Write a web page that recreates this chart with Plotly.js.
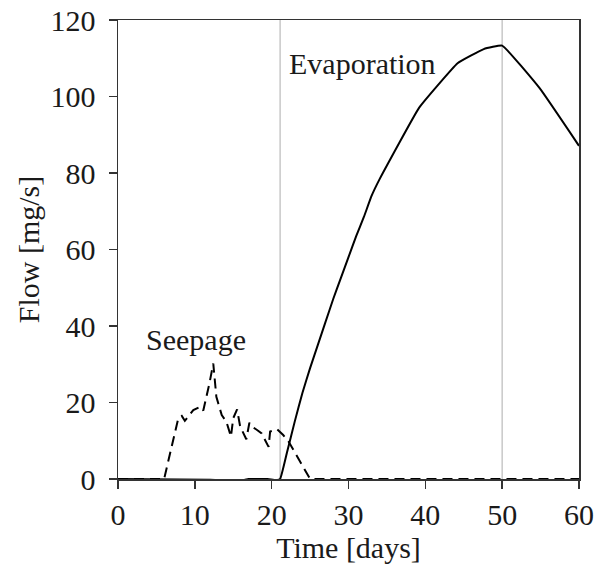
<!DOCTYPE html>
<html>
<head>
<meta charset="utf-8">
<script src="https://cdn.plot.ly/plotly-3.0.1.min.js"></script>
<style>
  html, body { margin: 0; padding: 0; background: #fff; }
  #chart { width: 597px; height: 568px; }
</style>
</head>
<body>
<div id="chart"></div>
<script>
// Seepage flow [mg/s] over time [days]
const seepageDays = [0, 6.0, 7.85, 8.3, 8.7, 9.8, 10.7, 11.1, 11.9, 12.4, 12.8, 13.5, 14.1, 14.7, 15.0, 15.5, 15.9, 16.7, 17.1, 17.6, 18.1, 18.7, 19.6, 19.8, 20.7, 21.5, 22.2, 25.0, 60];
const seepageFlow = [0, 0, 15.9, 16.5, 15.2, 18.0, 18.9, 17.9, 25.0, 30.2, 21.5, 16.7, 15.0, 11.1, 15.9, 18.2, 13.7, 10.4, 14.7, 13.5, 12.8, 11.9, 8.4, 12.4, 13.0, 11.5, 9.8, 0, 0];

// Evaporation flow [mg/s] over time [days]
const evapDays = [0, 12, 16, 17, 19.5, 20.5, 21.1, 22, 23, 24, 25, 26, 27, 28, 29, 30, 31, 32, 33, 34.1, 39.2, 44.2, 47.6, 50, 54.9, 60];
const evapFlow = [0, -0.2, -0.4, 0, 0, -0.3, 0, 7, 15, 22.5, 29, 35, 41, 47, 52.5, 58, 63.5, 68.5, 74, 78.6, 97.1, 108.7, 112.4, 113.3, 102.1, 87.1];

// Reference days marked with vertical lines
const markerDays = [21.1, 50];

// Axis ticks
const xTicks = [0, 10, 20, 30, 40, 50, 60];
const yTicks = [0, 20, 40, 60, 80, 100, 120];

const serif = "'Liberation Serif', 'Times New Roman', serif";
const textColor = '#1a1a1a';
const fs = 30;

const traces = [
  {
    x: seepageDays, y: seepageFlow, type: 'scatter', mode: 'lines',
    line: { color: '#000', width: 2, dash: '10px,6px' },
    name: 'Seepage', showlegend: false, hoverinfo: 'x+y'
  },
  {
    x: evapDays, y: evapFlow, type: 'scatter', mode: 'lines',
    line: { color: '#000', width: 2, shape: 'spline', smoothing: 0.3 },
    name: 'Evaporation', showlegend: false, hoverinfo: 'x+y'
  }
];

const shapes = markerDays.map(d => ({
  type: 'line', xref: 'x', yref: 'paper', x0: d, x1: d, y0: 0, y1: 1,
  line: { color: '#c8c8c8', width: 1.5 }, layer: 'below'
}));

const layout = {
  width: 597, height: 568,
  margin: { l: 118, r: 18, t: 20, b: 89 },
  paper_bgcolor: '#fff', plot_bgcolor: '#fff',
  font: { family: serif, size: fs, color: textColor },
  showlegend: false,
  xaxis: {
    range: [0, 60], tickvals: xTicks, ticktext: xTicks.map(String),
    showgrid: false, zeroline: false,
    showline: true, linecolor: '#333', linewidth: 1.5, mirror: true,
    ticks: 'outside', ticklen: 8, tickwidth: 1.5, tickcolor: '#333',
    tickfont: { family: serif, size: fs, color: textColor },
    title: { text: 'Time [days]', font: { family: serif, size: fs, color: textColor }, standoff: 2 }
  },
  yaxis: {
    range: [0, 120], tickvals: yTicks, ticktext: yTicks.map(String),
    showgrid: false, zeroline: false,
    showline: true, linecolor: '#333', linewidth: 1.5, mirror: true,
    ticks: 'outside', ticklen: 8, tickwidth: 1.5, tickcolor: '#333',
    ticklabelstandoff: 7,
    tickfont: { family: serif, size: fs, color: textColor },
    title: { text: 'Flow [mg/s]', font: { family: serif, size: fs, color: textColor }, standoff: 2 }
  },
  shapes: shapes,
  annotations: [
    { x: 10.2, y: 36.5, xref: 'x', yref: 'y', text: 'Seepage', showarrow: false,
      font: { family: serif, size: fs, color: textColor } },
    { x: 31.8, y: 108.5, xref: 'x', yref: 'y', text: 'Evaporation', showarrow: false,
      font: { family: serif, size: fs, color: textColor } }
  ]
};

Plotly.newPlot('chart', traces, layout, { staticPlot: true, displayModeBar: false });
</script>
</body>
</html>
